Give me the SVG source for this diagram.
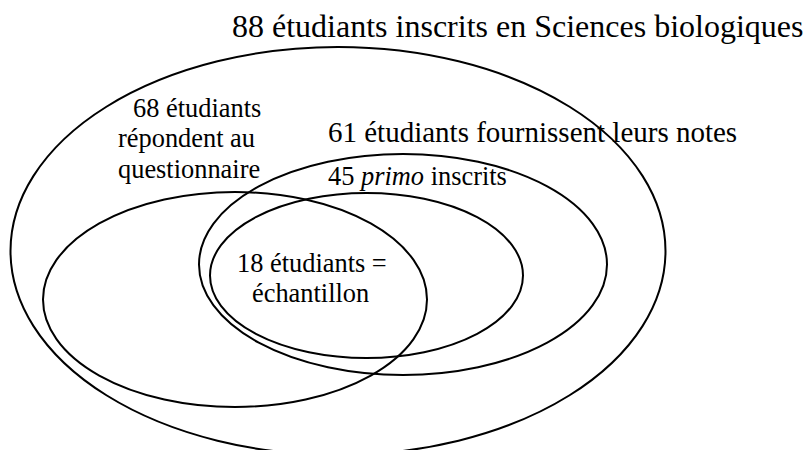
<svg xmlns="http://www.w3.org/2000/svg" width="803" height="450" viewBox="0 0 803 450">
<style>
.e{fill:none;stroke:#000;stroke-width:2}
text{font-family:"Liberation Serif","Times New Roman",serif;fill:#000}
.t1{font-size:32px}
.t2{font-size:29px}
.t3{font-size:26.4px}
</style>
<rect width="803" height="450" fill="#fff"/>
<g id="all">
<ellipse class="e" cx="338" cy="251" rx="327.5" ry="204"/>
<text class="t1" x="232" y="37">88 étudiants inscrits en Sciences biologiques</text>
</g>
<g id="notes">
<ellipse class="e" cx="403" cy="264.5" rx="204" ry="110.5"/>
<text class="t2" x="328" y="142">61 étudiants fournissent leurs notes</text>
</g>
<g id="primo">
<ellipse class="e" cx="366.5" cy="275.5" rx="156.5" ry="82.5"/>
<text class="t3" x="328" y="185">45 <tspan font-style="italic">primo</tspan> inscrits</text>
</g>
<g id="questionnaire">
<ellipse class="e" cx="235" cy="299.5" rx="192" ry="107.5"/>
<text class="t3"><tspan x="133" y="117">68 étudiants</tspan><tspan x="118" y="147">répondent au</tspan><tspan x="118" y="178">questionnaire</tspan></text>
</g>
<g id="echantillon">
<text class="t3"><tspan x="237" y="272">18 étudiants =</tspan><tspan x="252" y="302">échantillon</tspan></text>
</g>
<g id="connectors"/>
</svg>
